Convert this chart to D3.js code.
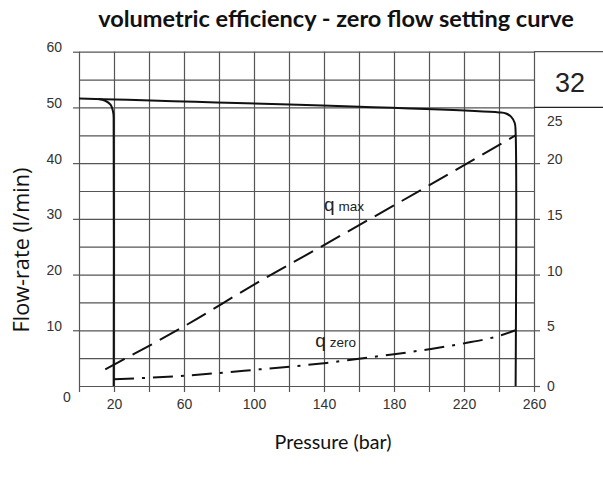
<!DOCTYPE html>
<html>
<head>
<meta charset="utf-8">
<script src="https://cdn.jsdelivr.net/npm/d3@7"></script>
<style>
body { margin: 0; background: #fff; }
</style>
</head>
<body>
<script>
// pressure (bar) grid and labels
var pressureTicks = d3.range(0, 261, 20);
var pressureLabels = [20, 60, 100, 140, 180, 220, 260];
// flow-rate (l/min) grid and labels
var flowTicks = d3.range(0, 61, 5);
var flowLabels = [10, 20, 30, 40, 50, 60];
var rightLabels = [0, 5, 10, 15, 20, 25];

// solid setting curves (pressure, flow)
var highSetting = [[0, 51.6], [240, 49.1], [244, 48.9], [247, 48.3], [249, 47.2], [249.5, 45.5], [249.5, 0]];
var lowSetting = [[11, 51.5], [15, 51.2], [18, 50.5], [19.6, 49], [19.8, 47], [19.8, 0]];

// q max (dashed)
var qMaxPressure = [15, 60, 100, 140, 200, 249.5];
var qMaxFlow = [3, 10.7, 18.2, 25.3, 36.0, 45];
// q zero (dash-dot)
var qZeroPressure = [20, 60, 100, 140, 160, 180, 200, 220, 240, 249.5];
var qZeroFlow = [1.2, 1.85, 2.9, 4.1, 4.9, 5.7, 6.6, 7.65, 9.0, 10];

var width = 603, height = 482;
var sans = '"Liberation Sans", Arial, sans-serif';

var svg = d3.select('body')
	.append('svg')
	.attr('width', width)
	.attr('height', height)
	.attr('font-family', sans);

var x = d3.scaleLinear().domain([0, 260]).range([79, 534]);
var y = d3.scaleLinear().domain([0, 60]).range([386, 51.7]);
var yRight = d3.scaleLinear().domain([0, 30]).range([386, 51.7]);

var gridColor = '#555';

function styleLines(g) {
	g.select('.domain').remove();
	g.selectAll('line').attr('stroke', gridColor).attr('stroke-width', 1.2);
}
function styleText(g) {
	g.select('.domain').remove();
	g.selectAll('text').attr('font-size', 14).attr('fill', '#333').attr('font-family', sans);
}
// shrink/grow a text to the width it has in the picture
function fitWidth(sel, target) {
	var len = sel.node().getComputedTextLength();
	var size = +sel.attr('font-size');
	sel.attr('font-size', size * target / len);
}

// vertical grid + bottom ticks
svg.append('g')
	.attr('transform', 'translate(0,' + y(0) + ')')
	.call(d3.axisBottom(x).tickValues(pressureTicks).tickSize(-(y(0) - y(60))).tickSizeOuter(0).tickFormat(''))
	.call(styleLines);
svg.append('g')
	.attr('transform', 'translate(0,' + y(0) + ')')
	.call(d3.axisBottom(x).tickValues(pressureTicks).tickSize(6).tickSizeOuter(0).tickFormat(''))
	.call(styleLines);

// horizontal grid
svg.append('g')
	.attr('transform', 'translate(' + x(0) + ',0)')
	.call(d3.axisLeft(y).tickValues(flowTicks).tickSize(-(x(260) - x(0))).tickSizeOuter(0).tickFormat(''))
	.call(styleLines);

// left ticks + labels
svg.append('g')
	.attr('transform', 'translate(' + x(0) + ',0)')
	.call(d3.axisLeft(y).tickValues(flowLabels).tickSize(6).tickPadding(11))
	.call(styleLines)
	.call(styleText)
	.call(function(g) { g.selectAll('text').attr('dy', '0.0em'); });

// zero label at the corner
svg.append('text')
	.attr('x', x(0) - 12)
	.attr('y', y(0) + 16)
	.attr('text-anchor', 'middle')
	.attr('font-size', 14)
	.attr('fill', '#333')
	.text('0');

// bottom labels
svg.append('g')
	.attr('transform', 'translate(0,' + y(0) + ')')
	.call(d3.axisBottom(x).tickValues(pressureLabels).tickSize(0).tickPadding(13))
	.call(styleText);

// right axis (second scale)
svg.append('g')
	.attr('transform', 'translate(' + x(260) + ',0)')
	.call(d3.axisRight(yRight).tickValues(rightLabels).tickSize(0).tickPadding(13))
	.call(styleText)
	.call(function(g) {
		g.selectAll('text')
			.attr('dy', function(d) { return d === 25 ? '1.3em' : (d === 0 ? '0.32em' : '0.05em'); });
	});
svg.append('g')
	.attr('transform', 'translate(' + x(260) + ',0)')
	.call(d3.axisRight(yRight).tickValues([0, 5, 10, 15, 20]).tickSize(6).tickFormat(''))
	.call(styleLines);

// "32" box lines
svg.selectAll('line.box')
	.data([60, 50])
	.enter()
	.append('line')
	.attr('class', 'box')
	.attr('x1', x(260))
	.attr('x2', width)
	.attr('y1', function(d) { return y(d); })
	.attr('y2', function(d) { return y(d); })
	.attr('stroke', function(d) { return d === 50 ? '#222' : gridColor; })
	.attr('stroke-width', 1.2);

svg.append('text')
	.attr('x', 570)
	.attr('y', 92)
	.attr('text-anchor', 'middle')
	.attr('font-size', 27)
	.attr('fill', '#222')
	.text('32');

var line = d3.line()
	.x(function(d) { return x(d[0]); })
	.y(function(d) { return y(d[1]); });

svg.append('path')
	.datum(highSetting)
	.attr('d', line.curve(d3.curveCatmullRom.alpha(0.5)))
	.attr('fill', 'none')
	.attr('stroke', '#111')
	.attr('stroke-width', 2);

svg.append('path')
	.datum(lowSetting)
	.attr('d', line.curve(d3.curveCatmullRom.alpha(0.5)))
	.attr('fill', 'none')
	.attr('stroke', '#111')
	.attr('stroke-width', 2);

svg.append('path')
	.datum(d3.zip(qMaxPressure, qMaxFlow))
	.attr('d', line.curve(d3.curveMonotoneX))
	.attr('fill', 'none')
	.attr('stroke', '#111')
	.attr('stroke-width', 2)
	.attr('stroke-dasharray', '22,9');

svg.append('path')
	.datum(d3.zip(qZeroPressure, qZeroFlow))
	.attr('d', line.curve(d3.curveMonotoneX))
	.attr('fill', 'none')
	.attr('stroke', '#111')
	.attr('stroke-width', 2)
	.attr('stroke-dasharray', '20,8,3,8');

// curve labels
var qLabels = svg.selectAll('text.qlabel')
	.data([{ p: 140, f: 31.4, sub: 'max' }, { p: 135, f: 7.0, sub: 'zero' }])
	.enter()
	.append('text')
	.attr('class', 'qlabel')
	.attr('x', function(d) { return x(d.p); })
	.attr('y', function(d) { return y(d.f); })
	.attr('fill', '#222');
qLabels.append('tspan').attr('font-size', 19).text('q');
qLabels.append('tspan').attr('font-size', 13.5).attr('dx', 4).text(function(d) { return d.sub; });

// title and axis titles
var title = svg.append('text')
	.attr('x', 336)
	.attr('y', 27)
	.attr('text-anchor', 'middle')
	.attr('font-family', 'Lato, "Open Sans", sans-serif')
	.attr('font-weight', 'bold')
	.attr('font-size', 21)
	.attr('fill', '#111')
	.text('volumetric efficiency - zero flow setting curve');
fitWidth(title, 476);

var xTitle = svg.append('text')
	.attr('x', 333)
	.attr('y', 449)
	.attr('text-anchor', 'middle')
	.attr('font-family', 'Lato, "Open Sans", sans-serif')
	.attr('font-size', 19)
	.attr('fill', '#111')
	.text('Pressure (bar)');
fitWidth(xTitle, 117);

var yTitle = svg.append('text')
	.attr('transform', 'translate(29,250) rotate(-90)')
	.attr('text-anchor', 'middle')
	.attr('font-family', '"Open Sans", sans-serif')
	.attr('font-size', 18)
	.attr('fill', '#111')
	.text('Flow-rate (l/min)');
fitWidth(yTitle, 165);
</script>
</body>
</html>
